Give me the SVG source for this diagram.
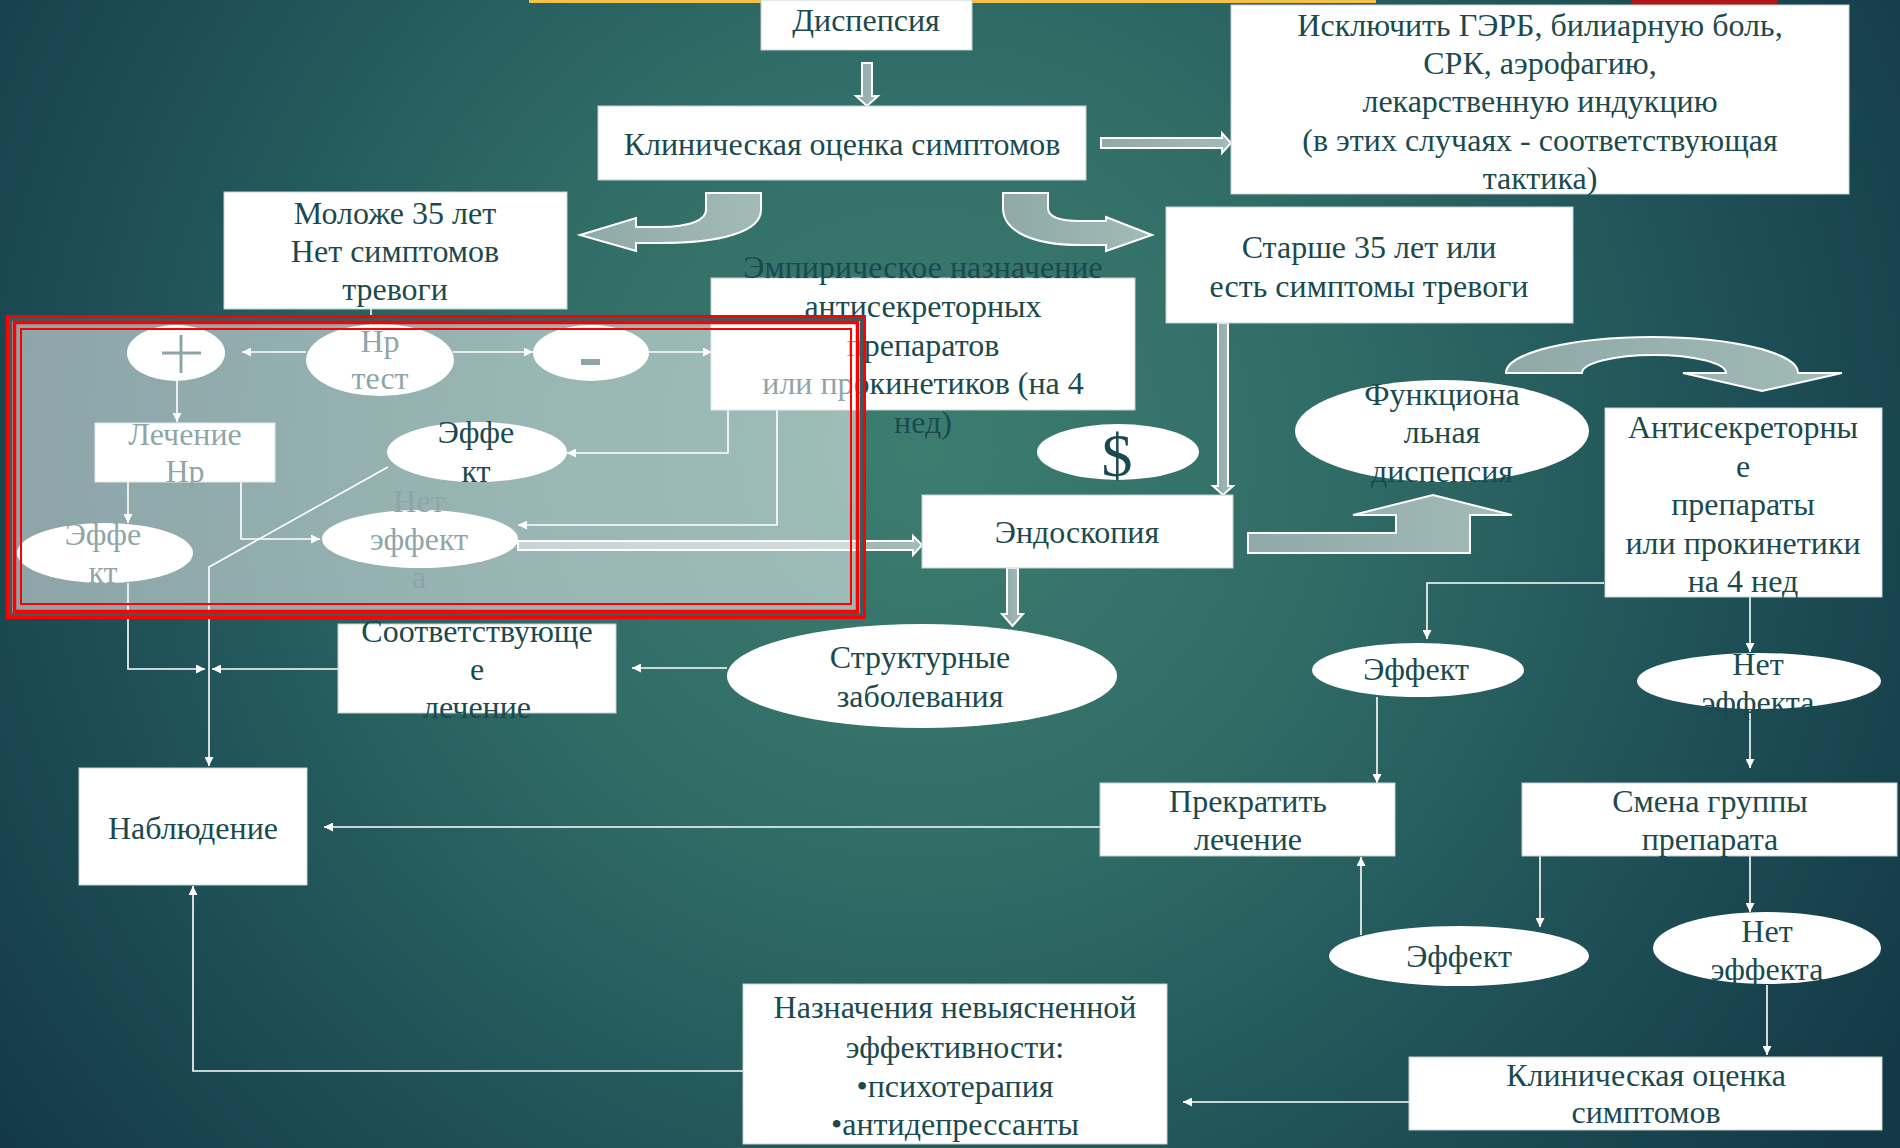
<svg xmlns="http://www.w3.org/2000/svg" width="1900" height="1148" viewBox="0 0 1900 1148">
<defs>
<radialGradient id="bg" gradientUnits="userSpaceOnUse" cx="920" cy="450" r="1150">
<stop offset="0" stop-color="#3d7d70"/>
<stop offset="0.35" stop-color="#316d67"/>
<stop offset="0.7" stop-color="#1f5157"/>
<stop offset="1" stop-color="#133947"/>
</radialGradient>
<linearGradient id="blkg" x1="0" y1="0" x2="1" y2="0">
<stop offset="0" stop-color="#8fa9a9"/>
<stop offset="1" stop-color="#a2bbb6"/>
</linearGradient>
<marker id="ah" viewBox="0 0 10 10" refX="10" refY="5" markerWidth="10" markerHeight="9" markerUnits="userSpaceOnUse" orient="auto">
<path d="M0,0 L10,5 L0,10 z" fill="#ffffff"/>
</marker>
<style>
.box{fill:#ffffff;stroke:#c6d0d0;stroke-width:1}
.el{fill:#ffffff}
.t{font-family:"Liberation Serif","Times New Roman",serif;font-size:32px;fill:#1b4a4e;text-anchor:middle}
.ln{fill:none;stroke:#ffffff;stroke-width:1.6;marker-end:url(#ah)}
.blk{fill:url(#blkg);stroke:#ffffff;stroke-width:2;stroke-linejoin:miter}
</style>
</defs>
<rect x="0" y="0" width="1900" height="1148" fill="url(#bg)"/>
<rect x="529" y="0" width="847" height="3" fill="#f3c04a"/>
<rect x="1632" y="0" width="145" height="5" fill="#b01818"/>

<g id="connectors">
<path class="blk" d="M862,63 L872,63 L872,96 L878,96 L867,106 L856,96 L862,96 Z"/>
<path class="blk" d="M1101,138 L1222,138 L1222,133 L1231,143 L1222,153 L1222,148 L1101,148 Z"/>
<path class="blk" d="M761,193 L706,193 L706,210 C706,220 690,227 660,227 L636,227 L636,218 L580,235 L636,251 L636,243 L660,243 C720,243 761,232 761,210 Z"/>
<path class="blk" d="M1003,193 L1048,193 L1048,208 C1048,217 1060,221 1080,221 L1106,221 L1106,217 L1152,235 L1106,251 L1106,245 L1080,245 C1030,245 1003,230 1003,208 Z"/>
<path class="blk" d="M1218,323 L1228,323 L1228,486 L1233,486 L1223,495 L1213,486 L1218,486 Z"/>
<path class="blk" d="M518,541 L913,541 L913,536 L922,545 L913,555 L913,550 L518,550 Z"/>
<path class="blk" d="M1007,568 L1018,568 L1018,614 L1023,614 L1012.5,626 L1002,614 L1007,614 Z"/>
<path class="blk" d="M1248,533 L1396,533 L1396,515 L1353,515 L1433,495 L1512,515 L1470,515 L1470,553 L1248,553 Z"/>
<path class="blk" d="M1506,373 A146,36 0 0 1 1798,373 L1842,373 L1762,391 L1683,373 L1726,373 A72,18 0 0 0 1582,373 Z"/>

<path class="ln" d="M371,309 L371,325"/>
<path class="ln" d="M306,352 L242,352"/>
<path class="ln" d="M453,352 L533,352"/>
<path class="ln" d="M648,352 L712,352"/>
<path class="ln" d="M177,381 L177,422"/>
<path class="ln" d="M128,482 L128,523"/>
<path class="ln" d="M241,482 L241,539 L320,539"/>
<path class="ln" d="M728,410 L728,453 L567,453"/>
<path class="ln" d="M777,410 L777,525 L518,525"/>
<path class="ln" d="M388,467 L209,567 L209,766"/>
<path class="ln" d="M128,583 L128,669 L205,669"/>
<path class="ln" d="M338,669 L212,669"/>
<path class="ln" d="M727,668 L632,668"/>
<path class="ln" d="M1100,827 L324,827"/>
<path class="ln" d="M743,1071 L193,1071 L193,886"/>
<path class="ln" d="M1409,1102 L1183,1102"/>
<path class="ln" d="M1604,583 L1427,583 L1427,639"/>
<path class="ln" d="M1750,597 L1750,652"/>
<path class="ln" d="M1750,710 L1750,768"/>
<path class="ln" d="M1377,697 L1377,783"/>
<path class="ln" d="M1540,856 L1540,927"/>
<path class="ln" d="M1750,856 L1750,912"/>
<path class="ln" d="M1361,935 L1361,857"/>
<path class="ln" d="M1767,985 L1767,1055"/>
</g>

<g id="n-dyspepsia"><rect class="box" x="761" y="0" width="211" height="50"/><text class="t" x="866" y="31">Диспепсия</text></g>
<g id="n-clinical1"><rect class="box" x="598" y="106" width="488" height="74"/><text class="t" x="842" y="155">Клиническая оценка симптомов</text></g>
<g id="n-exclude"><rect class="box" x="1231" y="5" width="618" height="189"/>
<text class="t" x="1540" y="36">Исключить ГЭРБ, билиарную боль,</text>
<text class="t" x="1540" y="74">СРК, аэрофагию,</text>
<text class="t" x="1540" y="112">лекарственную индукцию</text>
<text class="t" x="1540" y="151">(в этих случаях - соответствующая</text>
<text class="t" x="1540" y="189">тактика)</text></g>
<g id="n-young"><rect class="box" x="224" y="192" width="343" height="117"/>
<text class="t" x="395" y="224">Моложе 35 лет</text>
<text class="t" x="395" y="262">Нет симптомов</text>
<text class="t" x="395" y="300">тревоги</text></g>
<g id="n-old"><rect class="box" x="1166" y="207" width="407" height="116"/>
<text class="t" x="1369" y="258">Старше 35 лет или</text>
<text class="t" x="1369" y="297">есть симптомы тревоги</text></g>
<g id="n-empiric"><rect class="box" x="711" y="278" width="424" height="132"/>
<text class="t" x="923" y="278">Эмпирическое назначение</text>
<text class="t" x="923" y="317">антисекреторных</text>
<text class="t" x="923" y="356">препаратов</text>
<text class="t" x="923" y="394">или прокинетиков (на 4</text>
<text class="t" x="923" y="433">нед)</text></g>
<g id="n-plus"><ellipse class="el" cx="176" cy="353" rx="49" ry="28"/>
<path d="M162,353 L201,353 M181,335 L181,373" stroke="#1b4a4e" stroke-width="3" fill="none"/></g>
<g id="n-hptest"><ellipse class="el" cx="380" cy="360" rx="74" ry="36"/>
<text class="t" x="380" y="352">Hp</text><text class="t" x="380" y="389">тест</text></g>
<g id="n-minus"><ellipse class="el" cx="591" cy="353" rx="58" ry="28"/>
<rect x="581" y="359" width="19" height="6" fill="#1b4a4e"/></g>
<g id="n-treathp"><rect class="box" x="95" y="423" width="180" height="59"/>
<text class="t" x="185" y="445">Лечение</text><text class="t" x="185" y="482">Hp</text></g>
<g id="n-effect-left"><ellipse class="el" cx="105" cy="553" rx="88" ry="30"/>
<text class="t" x="103" y="545">Эффе</text><text class="t" x="103" y="583">кт</text></g>
<g id="n-noeffect-in"><ellipse class="el" cx="420" cy="539" rx="98" ry="29"/>
<text class="t" x="419" y="512">Нет</text><text class="t" x="419" y="550">эффект</text><text class="t" x="419" y="588">а</text></g>

<g id="highlight-frame">
<rect x="7" y="316" width="858" height="302" fill="#ffffff" fill-opacity="0.5"/>
<rect x="10.5" y="319.5" width="851" height="295" fill="none" stroke="#3a5c5f" stroke-width="3"/>
<rect x="7.5" y="316.5" width="857" height="301" fill="none" stroke="#ff0000" stroke-width="3"/>
<rect x="14.5" y="322.5" width="843" height="289" fill="none" stroke="#ff0000" stroke-width="3.5"/>
<rect x="21" y="329" width="830" height="275" fill="none" stroke="#ff0000" stroke-width="2"/>
</g>

<g id="n-effect-mid"><ellipse class="el" cx="477" cy="452" rx="90" ry="30"/>
<text class="t" x="476" y="443">Эффе</text><text class="t" x="476" y="482">кт</text></g>

<g id="n-dollar"><ellipse class="el" cx="1118" cy="452" rx="81" ry="28"/>
<text class="t" x="1117" y="476" style="font-size:62px">$</text></g>
<g id="n-endoscopy"><rect class="box" x="922" y="495" width="311" height="73"/>
<text class="t" x="1077" y="543">Эндоскопия</text></g>
<g id="n-structural"><ellipse class="el" cx="922" cy="676" rx="195" ry="52"/>
<text class="t" x="920" y="668">Структурные</text><text class="t" x="920" y="707">заболевания</text></g>
<g id="n-appropriate"><rect class="box" x="338" y="624" width="278" height="89"/>
<text class="t" x="477" y="642">Соответствующе</text><text class="t" x="477" y="680">е</text><text class="t" x="477" y="718">лечение</text></g>
<g id="n-observe"><rect class="box" x="79" y="768" width="228" height="117"/>
<text class="t" x="193" y="839">Наблюдение</text></g>
<g id="n-functional"><ellipse class="el" cx="1442" cy="431" rx="147" ry="51"/>
<text class="t" x="1442" y="405">Функциона</text><text class="t" x="1442" y="443">льная</text><text class="t" x="1442" y="482">диспепсия</text></g>
<g id="n-antisec"><rect class="box" x="1605" y="408" width="277" height="189"/>
<text class="t" x="1743" y="438">Антисекреторны</text>
<text class="t" x="1743" y="477">е</text>
<text class="t" x="1743" y="515">препараты</text>
<text class="t" x="1743" y="554">или прокинетики</text>
<text class="t" x="1743" y="592">на 4 нед</text></g>
<g id="n-effect-up"><ellipse class="el" cx="1418" cy="670" rx="106" ry="27"/>
<text class="t" x="1416" y="680">Эффект</text></g>
<g id="n-noeffect-up"><ellipse class="el" cx="1759" cy="681" rx="122" ry="28"/>
<text class="t" x="1758" y="675">Нет</text><text class="t" x="1758" y="713">эффекта</text></g>
<g id="n-stop"><rect class="box" x="1100" y="783" width="295" height="73"/>
<text class="t" x="1248" y="812">Прекратить</text><text class="t" x="1248" y="850">лечение</text></g>
<g id="n-change"><rect class="box" x="1522" y="783" width="375" height="73"/>
<text class="t" x="1710" y="812">Смена группы</text><text class="t" x="1710" y="850">препарата</text></g>
<g id="n-effect-low"><ellipse class="el" cx="1459" cy="956" rx="130" ry="30"/>
<text class="t" x="1459" y="967">Эффект</text></g>
<g id="n-noeffect-low"><ellipse class="el" cx="1767" cy="948" rx="114" ry="36"/>
<text class="t" x="1767" y="942">Нет</text><text class="t" x="1767" y="980">эффекта</text></g>
<g id="n-clinical2"><rect class="box" x="1409" y="1057" width="473" height="73"/>
<text class="t" x="1646" y="1086">Клиническая оценка</text><text class="t" x="1646" y="1123">симптомов</text></g>
<g id="n-assign"><rect class="box" x="743" y="984" width="424" height="160"/>
<text class="t" x="955" y="1018">Назначения невыясненной</text>
<text class="t" x="955" y="1058">эффективности:</text>
<text class="t" x="955" y="1097">•психотерапия</text>
<text class="t" x="955" y="1135">•антидепрессанты</text></g>
</svg>
